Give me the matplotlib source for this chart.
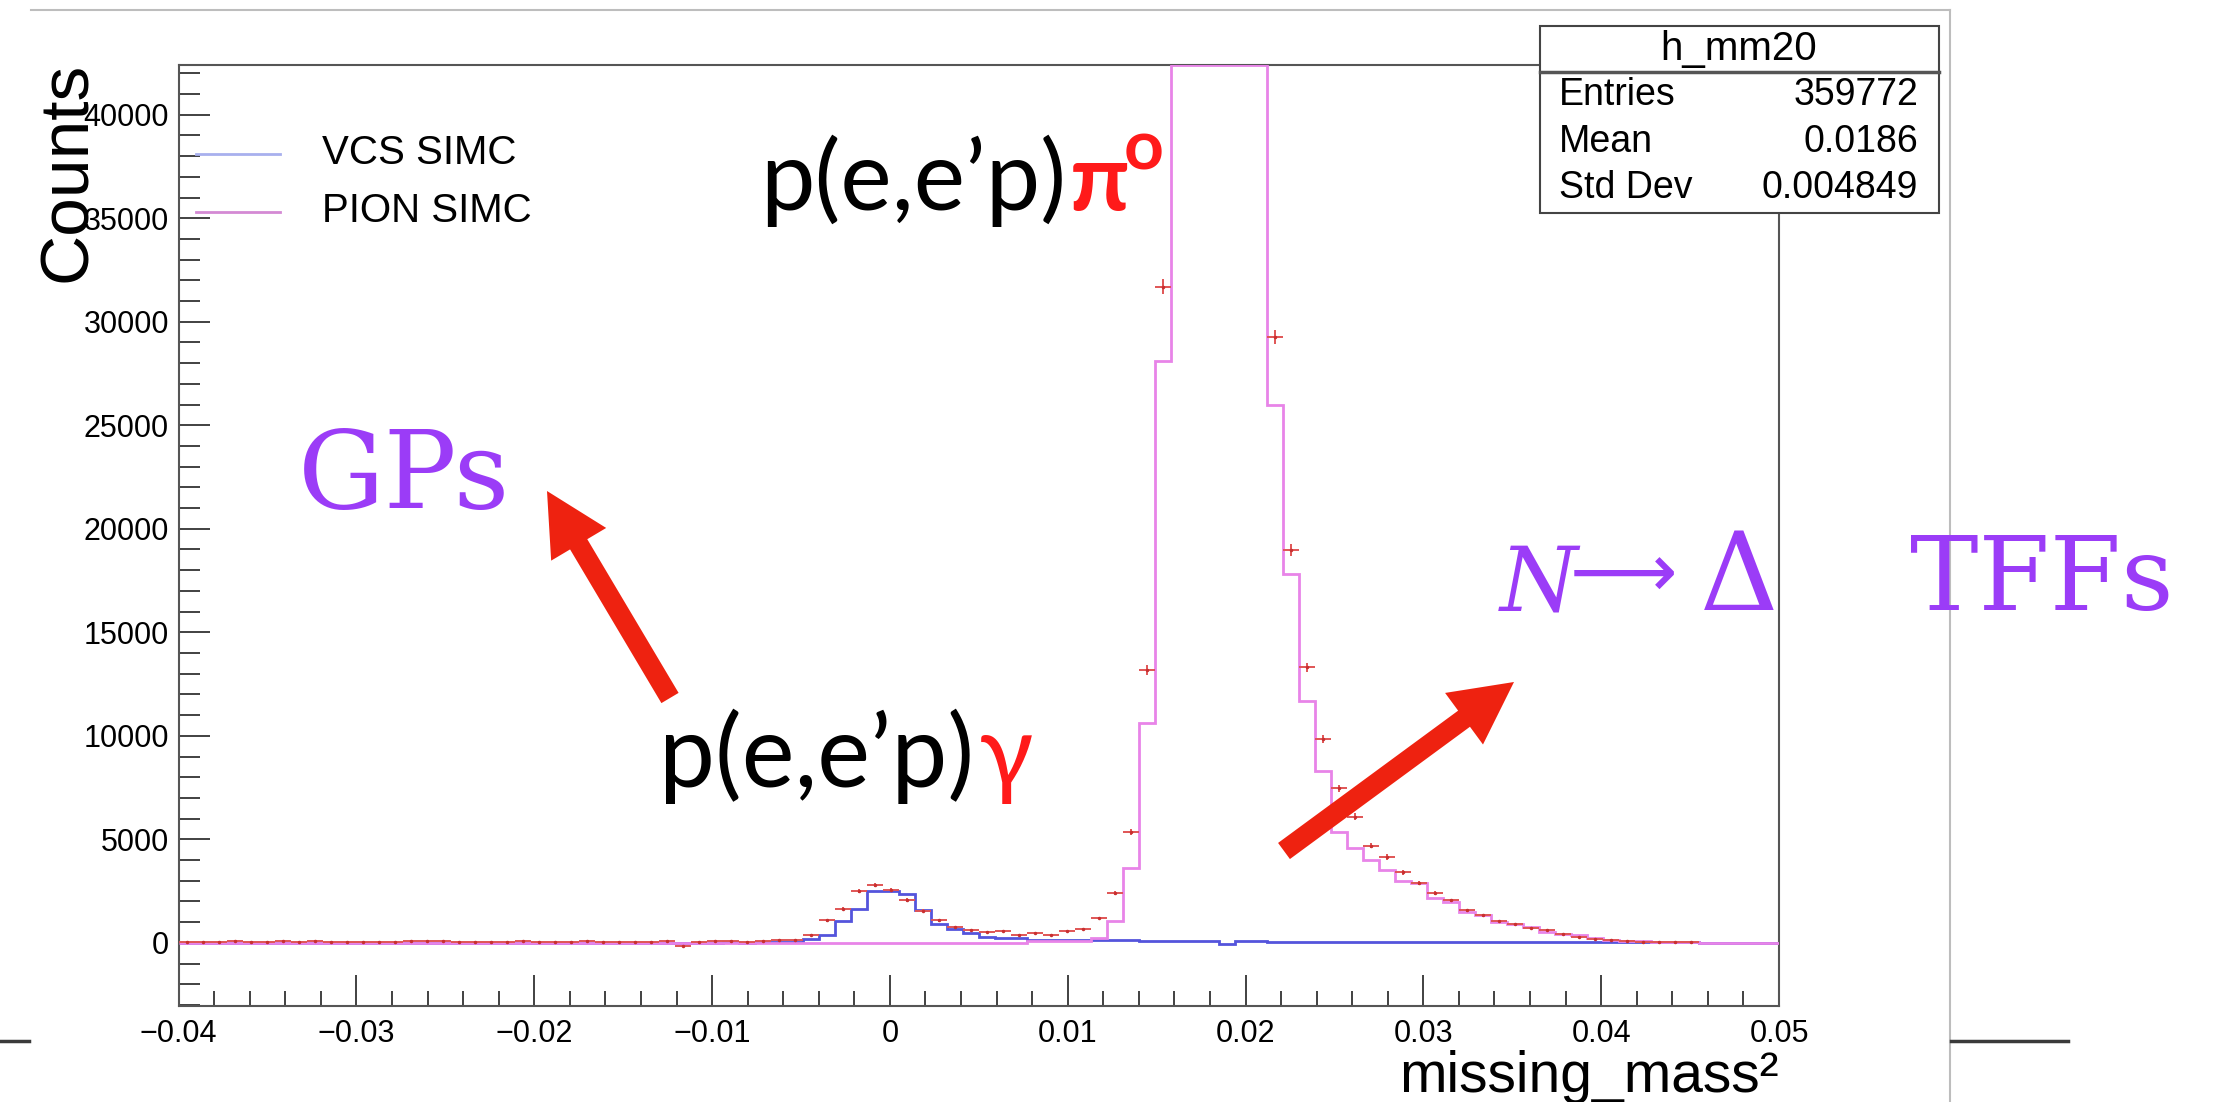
import numpy as np
import matplotlib.pyplot as plt
from matplotlib.ticker import MultipleLocator
from matplotlib.patches import FancyArrow, Rectangle

# binning of h_mm20 (100 bins over the axis range)
x_min, x_max, n_bins = -0.04, 0.05, 100
y_lo, y_hi = -3050, 42400

# VCS SIMC (blue), bins 0..99
vcs_simc = [0, 0, 0, 0, 0, 0, 0, 0, 0, 0,
            0, 0, 0, 0, 0, 0, 0, 0, 0, 0,
            0, 0, 0, 0, 0, 0, 0, 0, 0, 0,
            0, 10, 0, 10, 20, 10, 20, 30, 60, 200,
            400, 1050, 1650, 2500, 2520, 2370, 1600, 890, 680, 490,
            280, 250, 250, 130, 130, 130, 130, 160, 160, 120,
            100, 100, 100, 100, 100, -40, 100, 100, 20, 20,
            20, 20, 20, 20, 20, 20, 20, 20, 20, 20,
            20, 20, 20, 20, 20, 20, 20, 20, 20, 20,
            20, 20, 20, 20, 20, 0, 0, 0, 0, 0]

# PION SIMC (magenta)
pion_simc = [0, 0, 0, 0, 0, 0, 0, 0, 0, 0,
             0, 0, 0, 0, 0, 0, 0, 0, 0, 0,
             0, 0, 0, 0, 0, 0, 0, 0, 0, 0,
             0, 0, 0, 0, 0, 0, 0, 0, 0, 0,
             0, 0, 0, 0, 0, 0, 0, 0, 0, 0,
             0, 0, 0, 80, 80, 80, 80, 220, 1050, 3600,
             10600, 28100, 52000, 71000, 78000, 69000, 56000, 46000, 26000, 17800,
             11700, 8300, 5340, 4600, 4000, 3500, 3000, 2900, 2150, 1970,
             1490, 1330, 1000, 890, 760, 520, 410, 360, 250, 150,
             80, 80, 40, 30, 20, 0, 0, 0, 0, 0]

# data h_mm20 (red points)
data_counts = [40, 60, 30, 80, 50, 20, 70, 40, 90, 60,
               30, 50, 20, 40, 80, 70, 90, 50, 30, 40,
               20, 70, 60, 30, 50, 80, 40, 20, 60, 50,
               110, -160, 60, 80, 70, 40, 90, 120, 160, 360,
               1090, 1650, 2500, 2780, 2550, 2060, 1550, 1090, 770, 600,
               510, 560, 390, 480, 400, 560, 680, 1200, 2390, 5340,
               13170, 31700, 60000, 82000, 88000, 76000, 60000, 48000, 29250, 18970,
               13300, 9850, 7460, 6100, 4700, 4140, 3410, 2900, 2390, 2050,
               1570, 1330, 1050, 900, 700, 600, 420, 300, 210, 130,
               80, 60, 40, 30, 20, 0, 0, 0, 0, 0]

xticks = [-0.04, -0.03, -0.02, -0.01, 0, 0.01, 0.02, 0.03, 0.04, 0.05]
xtick_labels = ["\u22120.04", "\u22120.03", "\u22120.02", "\u22120.01", "0",
                "0.01", "0.02", "0.03", "0.04", "0.05"]
yticks = [0, 5000, 10000, 15000, 20000, 25000, 30000, 35000, 40000]
ytick_labels = [str(v) for v in yticks]

stats = [("Entries", "359772"), ("Mean", "0.0186"), ("Std Dev", "0.004849")]

W, H = 2213, 1102
fig = plt.figure(figsize=(W / 100, H / 100), dpi=100)
ax = fig.add_axes([178.6 / W, 1 - 1006 / H, (1779 - 178.6) / W, (1006 - 65) / H])

edges = np.linspace(x_min, x_max, n_bins + 1)
centers = 0.5 * (edges[1:] + edges[:-1])
half = 0.5 * (edges[1] - edges[0])

vcs = np.array(vcs_simc, float)
pion = np.array(pion_simc, float)
dat = np.array(data_counts, float)

ax.stairs(np.minimum(vcs, y_hi), edges, color="#3636d6", lw=2, alpha=0.85, zorder=2, baseline=None)
ax.stairs(np.minimum(pion, y_hi), edges, color="#e884e8", lw=2, zorder=3, baseline=None)
m = dat != 0
ax.errorbar(centers[m], dat[m], xerr=half, yerr=2 * np.sqrt(np.abs(dat[m])),
            fmt=".", ms=3, color="#c83030", ecolor="#e05555", elinewidth=1.4, zorder=4)

ax.set_xlim(x_min, x_max)
ax.set_ylim(y_lo, y_hi)
ax.set_xticks(xticks)
ax.set_xticklabels(xtick_labels)
ax.set_yticks(yticks)
ax.set_yticklabels(ytick_labels)
ax.xaxis.set_minor_locator(MultipleLocator(0.002))
ax.yaxis.set_minor_locator(MultipleLocator(1000))
ax.tick_params(which="both", direction="in", top=False, right=False, color="#333333", width=1.3)
ax.tick_params(axis="x", which="major", length=22, pad=9, labelsize=22)
ax.tick_params(axis="x", which="minor", length=11)
ax.tick_params(axis="y", which="major", length=22, pad=7, labelsize=22)
ax.tick_params(axis="y", which="minor", length=15)
for lab in ax.get_xticklabels() + ax.get_yticklabels():
    lab.set_family("Liberation Sans")
for s in ax.spines.values():
    s.set_color("#555555")
    s.set_linewidth(1.5)

# overlay in pixel coordinates for the slide annotations
ov = fig.add_axes([0, 0, 1, 1], zorder=10)
ov.set_xlim(0, W)
ov.set_ylim(H, 0)
ov.axis("off")

sans = "Liberation Sans"
# canvas border and slide lines
ov.plot([31, 1950], [10, 10], color="#bdbdbd", lw=1.5)
ov.plot([1950, 1950], [10, H], color="#bdbdbd", lw=1.5)
ov.plot([0, 29], [1041, 1041], color="#3a3a3a", lw=2.5)
ov.plot([1951, 2068], [1041, 1041], color="#3a3a3a", lw=2.5)

# axis titles
ov.text(68, 62, "Counts", rotation=90, ha="center", va="top", fontsize=50, family=sans)
ov.text(1779, 1092, "missing_mass\u00b2", ha="right", va="baseline", fontsize=41, family=sans)

# legend
ov.plot([196, 280], [154, 154], color="#a8b0ee", lw=2)
ov.plot([196, 280], [212, 212], color="#d48ad4", lw=2)
ov.text(322, 153, "VCS SIMC", ha="left", va="center", fontsize=29, family=sans)
ov.text(322, 211, "PION SIMC", ha="left", va="center", fontsize=29, family=sans)

# stats box
ov.add_patch(Rectangle((1540, 26), 399, 187, facecolor="white", edgecolor="#444444", lw=1.5))
ov.plot([1540, 1939], [72, 72], color="#555555", lw=2.5)
ov.text(1739, 49, "h_mm20", ha="center", va="center", fontsize=29, family=sans)
for i, (k, v) in enumerate(stats):
    y = 95 + i * 46.5
    ov.text(1559, y, k, ha="left", va="center", fontsize=27, family=sans)
    ov.text(1918, y, v, ha="right", va="center", fontsize=27, family=sans)

# slide annotations
lato = ["Lato", "DejaVu Sans"]
red = "#ff1a1a"
purple = "#9b3cf7"
ov.text(1066, 210, "p(e,e\u2019p)", ha="right", va="baseline", fontsize=70, family=lato)
ov.text(1070, 210, "\u03c0", ha="left", va="baseline", fontsize=68, fontweight="bold", color=red, family=lato)
ov.text(1124, 170, "o", ha="left", va="baseline", fontsize=50, fontweight="bold", color=red, family=lato)

ov.text(974, 787, "p(e,e\u2019p)", ha="right", va="baseline", fontsize=72, family=lato)
ov.text(979, 787, "\u03b3", ha="left", va="baseline", fontsize=72, color=red, family=lato)

ov.text(298, 508, "GPs", ha="left", va="baseline", fontsize=78, color=purple, family="DejaVu Serif")
ov.text(1500, 610, "N", ha="left", va="baseline", fontsize=64, style="italic", color=purple, family="DejaVu Serif")
ov.text(1570, 598, "\u27f6", ha="left", va="baseline", fontsize=54, color=purple, family=["DejaVu Sans", "DejaVu Serif"])
ov.text(1700, 610, "\u0394", ha="left", va="baseline", fontsize=78, color=purple, family="DejaVu Serif")
ov.text(1910, 610, "TFFs", ha="left", va="baseline", fontsize=74, color=purple, family="DejaVu Serif")

arrow_red = "#ee2210"
ov.add_patch(FancyArrow(670, 698, -123, -207, width=20, head_width=64, head_length=62,
                        length_includes_head=True, color=arrow_red, lw=0))
ov.add_patch(FancyArrow(1284, 851, 230, -169, width=20, head_width=64, head_length=62,
                        length_includes_head=True, color=arrow_red, lw=0))

fig.savefig("out.png", dpi=100)
